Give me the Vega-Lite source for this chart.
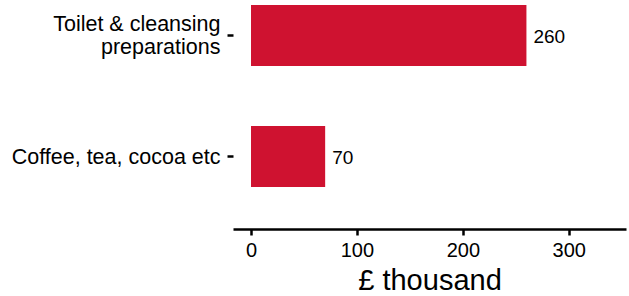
{
  "$schema": "https://vega.github.io/schema/vega-lite/v6.json",
  "autosize": "none",
  "width": 393,
  "height": 229,
  "padding": {"left": 233, "top": 0, "right": 3, "bottom": 67},
  "background": "white",
  "config": {
    "view": {"stroke": null},
    "font": "Liberation Sans"
  },
  "data": {
    "values": [
      {"category": "Toilet & cleansing|preparations", "value": 260},
      {"category": "Coffee, tea, cocoa etc", "value": 70}
    ]
  },
  "encoding": {
    "y": {
      "field": "category",
      "type": "nominal",
      "sort": null,
      "scale": {"paddingInner": 0.496, "paddingOuter": 0.1943, "align": 0.106},
      "axis": {
        "title": null,
        "domain": false,
        "ticks": true,
        "tickSize": 6,
        "tickWidth": 2.5,
        "tickColor": "black",
        "labelPadding": 7,
        "labelFontSize": 21.5,
        "labelColor": "black",
        "labelLineHeight": 23,
        "labelLimit": 300,
        "labelOffset": {"condition": {"test": "indexof(datum.value, '|') >= 0", "value": -10}, "value": 1.5},
        "labelExpr": "split(datum.label, '|')"
      }
    }
  },
  "layer": [
    {
      "mark": {"type": "bar", "color": "#CF1230"},
      "encoding": {
        "x": {
          "field": "value",
          "type": "quantitative",
          "scale": {"domain": [-17, 354], "nice": false, "zero": false},
          "axis": {
            "title": "£ thousand",
            "titleFontSize": 29,
            "titleFontWeight": "normal",
            "titleColor": "black",
            "titlePadding": 6,
            "values": [0, 100, 200, 300],
            "domain": true,
            "domainColor": "black",
            "domainWidth": 2.5,
            "ticks": true,
            "tickSize": 6,
            "tickWidth": 2.5,
            "tickColor": "black",
            "labelFontSize": 20,
            "labelColor": "black",
            "labelPadding": 5,
            "grid": false
          }
        }
      }
    },
    {
      "mark": {"type": "text", "align": "left", "baseline": "middle", "dx": 7, "dy": 1.5, "fontSize": 19, "color": "black"},
      "encoding": {
        "x": {"field": "value", "type": "quantitative"},
        "text": {"field": "value", "type": "quantitative"}
      }
    }
  ]
}
